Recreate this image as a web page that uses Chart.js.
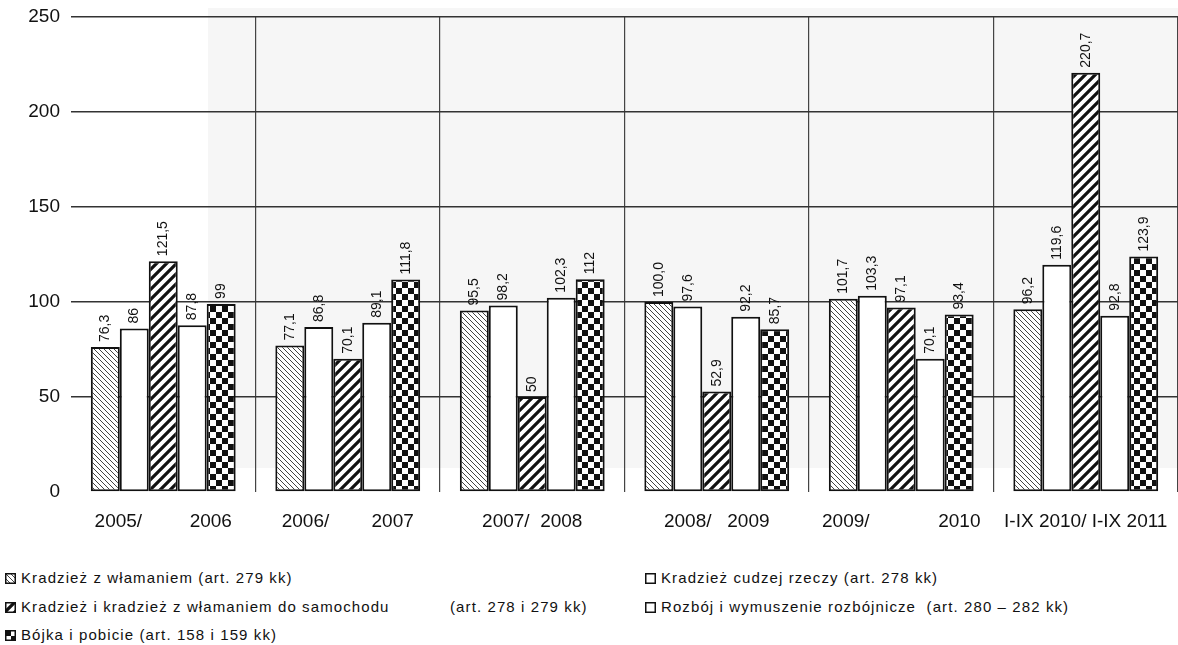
<!DOCTYPE html>
<html lang="pl">

<head>
    <meta charset="UTF-8">
    <title>Dynamika przestępstw</title>
    <script src="https://cdn.jsdelivr.net/npm/chart.js"></script>
    <style>
        body {
            margin: 0;
            background: #fff;
            font-family: "Liberation Sans", Arial, sans-serif;
        }
        .page {
            position: relative;
            width: 1178px;
            height: 645px;
        }
        .chart-container {
            position: absolute;
            left: 0;
            top: 0;
            width: 1178px;
            height: 550px;
        }
        .legend-item {
            position: absolute;
            font-size: 15px;
            letter-spacing: 1.1px;
            color: #111;
            white-space: pre;
            line-height: 18px;
        }
        .legend-item canvas {
            vertical-align: -1px;
            margin-right: 5px;
        }
        .legend-item .first {
            display: inline-block;
        }
    </style>
</head>

<body>
    <div class="page">
        <div class="chart-container"><canvas id="chart"></canvas></div>
        <div id="legend"></div>
    </div>

    <script>
        // categories (x axis labels, spacing kept as in the original)
        const categories = ['2005/         2006', '2006/        2007', '2007/  2008', '2008/   2009', '2009/             2010', 'I-IX 2010/ I-IX 2011'];

        // values as printed on the bars
        const burglary = ['76,3', '77,1', '95,5', '100,0', '101,7', '96,2'];
        const theft = ['86', '86,8', '98,2', '97,6', '103,3', '119,6'];
        const carTheft = ['121,5', '70,1', '50', '52,9', '97,1', '220,7'];
        const robbery = ['87,8', '89,1', '102,3', '92,2', '70,1', '92,8'];
        const assault = ['99', '111,8', '112', '85,7', '93,4', '123,9'];

        const yTicks = [0, 50, 100, 150, 200, 250];

        const seriesNames = [
            'Kradzież z włamaniem (art. 279 kk)',
            'Kradzież cudzej rzeczy (art. 278 kk)',
            'Kradzież i kradzież z włamaniem do samochodu|(art. 278 i 279 kk)',
            'Rozbój i wymuszenie rozbójnicze  (art. 280 – 282 kk)',
            'Bójka i pobicie (art. 158 i 159 kk)'
        ];

        const toNumber = s => parseFloat(s.replace(',', '.'));

        // pattern helpers
        function hatch(size, lw, dir, fg) {
            const c = document.createElement('canvas');
            c.width = c.height = size;
            const g = c.getContext('2d');
            g.fillStyle = '#fff';
            g.fillRect(0, 0, size, size);
            g.strokeStyle = fg;
            g.lineWidth = lw;
            g.beginPath();
            if (dir > 0) {
                g.moveTo(-size, size); g.lineTo(size, -size);
                g.moveTo(0, size); g.lineTo(size, 0);
                g.moveTo(0, 2 * size); g.lineTo(2 * size, 0);
            } else {
                g.moveTo(-size, 0); g.lineTo(size, 2 * size);
                g.moveTo(0, 0); g.lineTo(size, size);
                g.moveTo(0, -size); g.lineTo(2 * size, size);
            }
            g.stroke();
            return g.createPattern(c, 'repeat');
        }

        function checker(cell) {
            const c = document.createElement('canvas');
            c.width = c.height = cell * 2;
            const g = c.getContext('2d');
            g.fillStyle = '#fff';
            g.fillRect(0, 0, cell * 2, cell * 2);
            g.fillStyle = '#111';
            g.fillRect(0, 0, cell, cell);
            g.fillRect(cell, cell, cell, cell);
            return g.createPattern(c, 'repeat');
        }

        const fills = [
            hatch(5, 1, -1, '#444'),
            '#fff',
            hatch(10, 3.2, 1, '#111'),
            '#fff',
            checker(6)
        ];

        const seriesValues = [burglary, theft, carTheft, robbery, assault];

        // light grey tone of the scanned page behind the plot
        const paperTone = {
            id: 'paperTone',
            beforeDraw(chart) {
                const ctx = chart.ctx;
                ctx.save();
                ctx.fillStyle = '#f6f6f6';
                ctx.fillRect(208, 8, chart.width - 208, 460);
                ctx.restore();
            }
        };

        // vertical value labels above each bar
        const valueLabels = {
            id: 'valueLabels',
            afterDatasetsDraw(chart) {
                const ctx = chart.ctx;
                ctx.save();
                ctx.font = '14px "Liberation Sans", Arial, sans-serif';
                ctx.fillStyle = '#111';
                ctx.textAlign = 'left';
                ctx.textBaseline = 'middle';
                chart.data.datasets.forEach((ds, i) => {
                    chart.getDatasetMeta(i).data.forEach((bar, j) => {
                        ctx.save();
                        ctx.translate(bar.x, bar.y - 5);
                        ctx.rotate(-Math.PI / 2);
                        ctx.fillText(seriesValues[i][j], 0, 0);
                        ctx.restore();
                    });
                });
                ctx.restore();
            }
        };

        Chart.defaults.font.family = '"Liberation Sans", Arial, sans-serif';
        Chart.defaults.color = '#111';

        new Chart(document.getElementById('chart'), {
            type: 'bar',
            data: {
                labels: categories,
                datasets: seriesValues.map((vals, i) => ({
                    label: seriesNames[i].replace('|', ' '),
                    data: vals.map(toNumber),
                    backgroundColor: fills[i],
                    borderColor: '#111',
                    borderWidth: 2,
                    borderSkipped: false,
                    categoryPercentage: 0.785,
                    barPercentage: 1
                }))
            },
            options: {
                responsive: true,
                maintainAspectRatio: false,
                animation: false,
                layout: { padding: { top: 17, right: 0, left: 0, bottom: 0 } },
                plugins: {
                    legend: { display: false },
                    tooltip: { enabled: false }
                },
                scales: {
                    x: {
                        border: { display: false },
                        grid: {
                            offset: true,
                            drawTicks: false,
                            color: ctx => ctx.index === 0 ? 'rgba(0,0,0,0)' : '#444',
                            lineWidth: 1.2
                        },
                        ticks: {
                            padding: 18,
                            autoSkip: false,
                            maxRotation: 0,
                            font: { size: 19 }
                        },
                        afterFit: scale => {
                            scale.height = 58;
                            scale.paddingLeft = 0;
                            scale.paddingRight = 0;
                        }
                    },
                    y: {
                        min: 0,
                        max: 250,
                        border: { display: false },
                        afterBuildTicks: scale => { scale.ticks = yTicks.map(v => ({ value: v })); },
                        grid: {
                            drawTicks: false,
                            color: ctx => ctx.tick && ctx.tick.value === 0 ? 'rgba(0,0,0,0)' : '#333',
                            lineWidth: 1.5
                        },
                        ticks: {
                            padding: 11,
                            font: { size: 19 }
                        },
                        afterFit: scale => {
                            scale.width = 71;
                            scale.paddingTop = 0;
                            scale.paddingBottom = 0;
                        }
                    }
                }
            },
            plugins: [paperTone, valueLabels]
        });

        // legend (two columns as in the original)
        const legendPos = [
            { x: 5, y: 569 },
            { x: 645, y: 569 },
            { x: 5, y: 598 },
            { x: 645, y: 598 },
            { x: 5, y: 626 }
        ];
        const legend = document.getElementById('legend');
        seriesNames.forEach((name, i) => {
            const item = document.createElement('div');
            item.className = 'legend-item';
            item.style.left = legendPos[i].x + 'px';
            item.style.top = legendPos[i].y + 'px';
            const box = document.createElement('canvas');
            box.width = 11;
            box.height = 11;
            const g = box.getContext('2d');
            g.fillStyle = fills[i];
            g.fillRect(0, 0, 11, 11);
            g.strokeStyle = '#111';
            g.lineWidth = 1.5;
            g.strokeRect(0.75, 0.75, 9.5, 9.5);
            item.appendChild(box);
            const parts = name.split('|');
            if (parts.length > 1) {
                const first = document.createElement('span');
                first.className = 'first';
                first.style.width = '429px';
                first.textContent = parts[0];
                item.appendChild(first);
                item.appendChild(document.createTextNode(parts[1]));
            } else {
                item.appendChild(document.createTextNode(name));
            }
            legend.appendChild(item);
        });
    </script>
</body>

</html>
